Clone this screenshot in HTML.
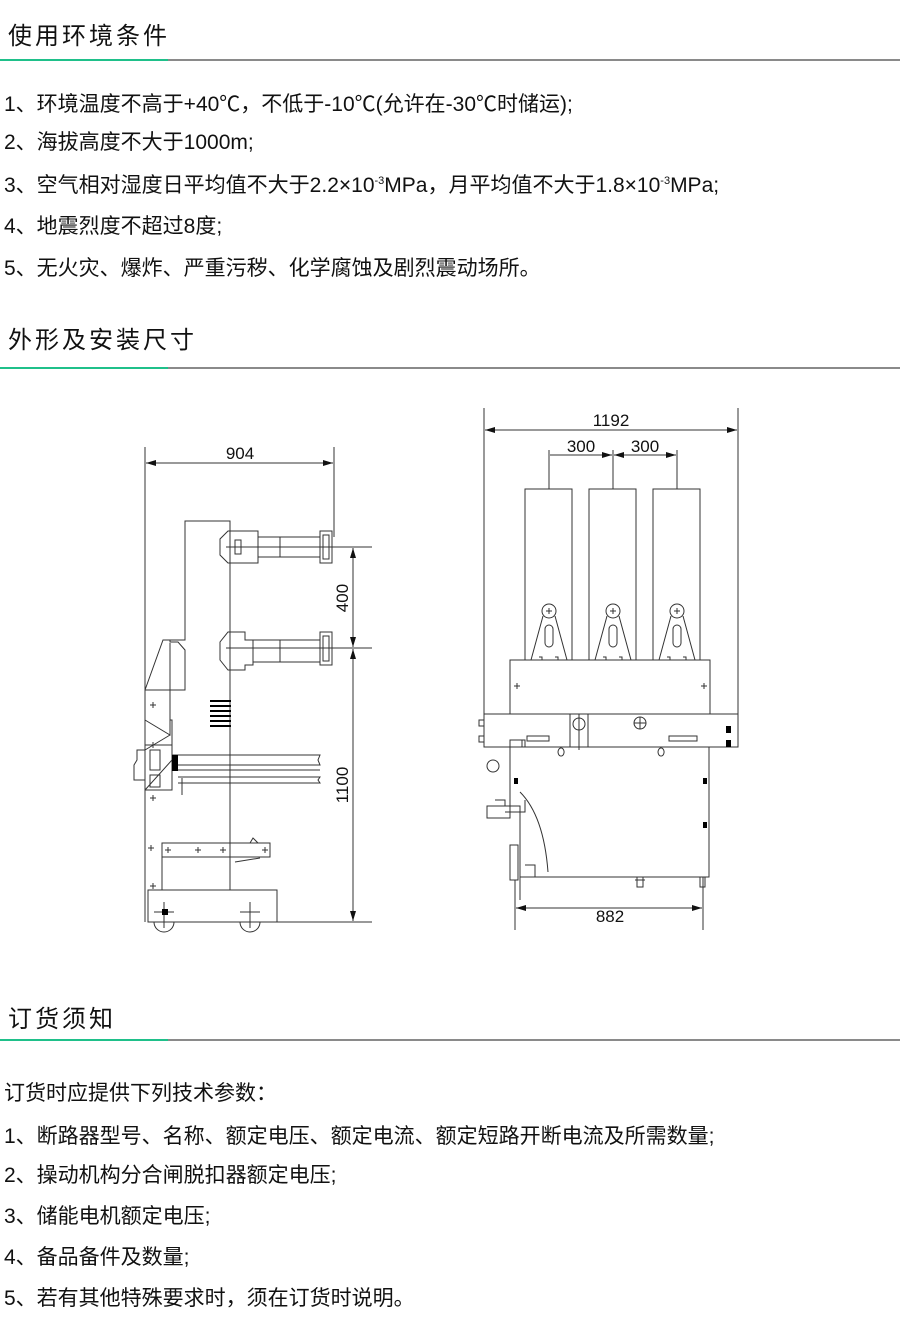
<!DOCTYPE html>
<html><head><meta charset="utf-8">
<style>
body{margin:0;background:#fff;width:900px;height:1320px;position:relative;overflow:hidden;font-family:"Liberation Sans","Noto Sans CJK SC",sans-serif;color:#111}
.h{position:absolute;left:8px;font-size:24px;letter-spacing:3px}
.ln{position:absolute;left:0;width:900px;height:2px;background:#8a8a8a}
.ln i{position:absolute;left:0;top:0;width:168px;height:2px;background:#1fc08a}
.t{position:absolute;left:4px;font-size:21px;white-space:nowrap}
sup{font-size:11px}
svg{position:absolute;left:0;top:0}
</style></head><body>
<div class="h" style="top:16px">使用环境条件</div>
<div class="ln" style="top:59px"><i></i></div>
<div class="t" style="top:88px">1、环境温度不高于+40℃，不低于-10℃(允许在-30℃时储运);</div>
<div class="t" style="top:126px">2、海拔高度不大于1000m;</div>
<div class="t" style="top:169px">3、空气相对湿度日平均值不大于2.2×10<sup>-3</sup>MPa，月平均值不大于1.8×10<sup>-3</sup>MPa;</div>
<div class="t" style="top:210px">4、地震烈度不超过8度;</div>
<div class="t" style="top:252px">5、无火灾、爆炸、严重污秽、化学腐蚀及剧烈震动场所。</div>
<div class="h" style="top:320px">外形及安装尺寸</div>
<div class="ln" style="top:367px"><i></i></div>
<div class="h" style="top:999px">订货须知</div>
<div class="ln" style="top:1039px"><i></i></div>
<div class="t" style="top:1077px">订货时应提供下列技术参数：</div>
<div class="t" style="top:1120px">1、断路器型号、名称、额定电压、额定电流、额定短路开断电流及所需数量;</div>
<div class="t" style="top:1159px">2、操动机构分合闸脱扣器额定电压;</div>
<div class="t" style="top:1200px">3、储能电机额定电压;</div>
<div class="t" style="top:1241px">4、备品备件及数量;</div>
<div class="t" style="top:1282px">5、若有其他特殊要求时，须在订货时说明。</div>

<svg width="900" height="1320" viewBox="0 0 900 1320">
<defs>
<marker id="a" viewBox="0 0 10 6" refX="10" refY="3" markerWidth="10" markerHeight="6" orient="auto-start-reverse" markerUnits="userSpaceOnUse"><path d="M0,0L10,3L0,6z" fill="#111"/></marker>
</defs>
<g fill="none" stroke="#333" stroke-width="1">
<line x1="145" y1="447" x2="145" y2="922"/>
<line x1="334" y1="447" x2="334" y2="537"/>
<line x1="146" y1="463" x2="333" y2="463" marker-start="url(#a)" marker-end="url(#a)"/>
<line x1="323" y1="547" x2="372" y2="547"/>
<line x1="323" y1="648" x2="372" y2="648"/>
<line x1="258" y1="922" x2="372" y2="922"/>
<line x1="353" y1="548" x2="353" y2="647" marker-start="url(#a)" marker-end="url(#a)"/>
<line x1="353" y1="649" x2="353" y2="921" marker-start="url(#a)" marker-end="url(#a)"/>
<path d="M185,521H230V755H172V720H170V690H185V650L178,642H170V640H185z"/>
<path d="M170,640H163L145,690M170,643V690"/>
<path d="M145,690H170V735L145,720"/>
<path d="M170,735L145,750"/>
<path d="M172,760L145,790"/>
<path d="M228,531H258V563H228L220,555V539z"/>
<rect x="258" y="537" width="62" height="20"/>
<line x1="280" y1="537" x2="280" y2="557"/>
<rect x="320" y="531" width="12" height="32"/>
<rect x="323" y="535" width="6" height="24"/>
<line x1="226" y1="547" x2="330" y2="547"/>
<path d="M235,540h6v14h-6z"/>
<path d="M228,632H245V640H253V665H245V670H228L220,660V642z"/>
<rect x="253" y="640" width="67" height="22"/>
<line x1="280" y1="640" x2="280" y2="662"/>
<rect x="320" y="632" width="12" height="33"/>
<rect x="323" y="636" width="6" height="25"/>
<line x1="226" y1="648" x2="330" y2="648"/>
<path d="M178,755H320L318,760L320,765H178"/>
<path d="M178,777H320L318,780L320,783H178"/>
<line x1="178" y1="770" x2="320" y2="770"/>
<rect x="145" y="745" width="27" height="45"/>
<path d="M150,750h10v20h-10zM150,775h10v12h-10z"/>
<path d="M145,750h-8v10l-3,5v15h11"/>
<line x1="182" y1="778" x2="182" y2="795"/>
<line x1="230" y1="755" x2="230" y2="890"/>
<rect x="162" y="843" width="108" height="14"/>
<path d="M250,843l3,-5l5,5"/>
<line x1="162" y1="857" x2="162" y2="890"/>
<path d="M235,862l25,-4"/>
<rect x="148" y="890" width="129" height="32"/>
<path d="M154,922a10,10 0 0 0 20,0M240,922a10,10 0 0 0 20,0"/>
<path d="M164,902v26M154,912h20M250,902v26M240,912h20"/>
<path d="M150,705h6M153,702v6M150,745h6M153,742v6M150,798h6M153,795v6M148,848h6M151,845v6M165,850h6M168,847v6M195,850h6M198,847v6M220,850h6M223,847v6M262,850h6M265,847v6M150,886h6M153,883v6"/>
<line x1="484" y1="408" x2="484" y2="714"/>
<line x1="738" y1="408" x2="738" y2="714"/>
<line x1="485" y1="430" x2="737" y2="430" marker-start="url(#a)" marker-end="url(#a)"/>
<line x1="549" y1="450" x2="549" y2="489"/>
<line x1="613" y1="450" x2="613" y2="489"/>
<line x1="677" y1="450" x2="677" y2="489"/>
<line x1="550" y1="455" x2="612" y2="455" marker-end="url(#a)"/>
<line x1="614" y1="455" x2="676" y2="455" marker-start="url(#a)" marker-end="url(#a)"/>
<rect x="525" y="489" width="47" height="171"/>
<rect x="589" y="489" width="47" height="171"/>
<rect x="653" y="489" width="47" height="171"/>
<g id="br">
<circle cx="549" cy="611" r="7"/>
<path d="M546,611h6M549,608v6"/>
<path d="M543,616L531,660M555,616L567,660"/>
<rect x="545" y="625" width="8" height="22" rx="4"/>
<path d="M539,657h3v3M555,657h3v3"/>
</g>
<use href="#br" x="64"/>
<use href="#br" x="128"/>
<rect x="510" y="660" width="200" height="54"/>
<path d="M514,686h6M517,683v6M701,686h6M704,683v6"/>
<rect x="484" y="714" width="254" height="33"/>
<rect x="570" y="714" width="18" height="33"/>
<line x1="579" y1="714" x2="579" y2="750"/>
<circle cx="579" cy="724" r="6"/>
<circle cx="640" cy="723" r="6"/>
<path d="M634,723h12M640,717v12"/>
<path d="M527,736h22v5h-22zM669,736h28v5h-28z"/>
<path d="M561,748a3,4 0 1 0 .1,0M661,748a3,4 0 1 0 .1,0"/>
<path d="M484,720h-5v6h5M484,736h-5v6h5"/>
<path d="M510,747V806H520V900M510,747v-7h15v7"/>
<rect x="510" y="740" width="12" height="7"/>
<path d="M510,747H709V877H520"/>
<circle cx="493" cy="766" r="6"/>
<path d="M487,806h23v12h-23zM495,800h10v6M505,812h20V800"/>
<path d="M520,792c15,15 25,40 28,80"/>
<path d="M525,865h10v12M510,845h8v35h-8z"/>
<line x1="515" y1="880" x2="515" y2="930"/>
<line x1="703" y1="877" x2="703" y2="930"/>
<rect x="700" y="877" width="5" height="10"/>
<path d="M637,877v10h6v-10M635,880h10"/>
<line x1="516" y1="908" x2="702" y2="908" marker-start="url(#a)" marker-end="url(#a)"/>
</g>
<g fill="#000">
<rect x="172" y="755" width="6" height="16"/>
<rect x="210" y="700" width="21" height="2"/><rect x="210" y="705" width="21" height="2"/><rect x="210" y="710" width="21" height="2"/><rect x="210" y="715" width="21" height="2"/><rect x="210" y="720" width="21" height="2"/><rect x="210" y="725" width="21" height="2"/>
<rect x="162" y="909" width="6" height="6"/>
<rect x="726" y="726" width="5" height="7"/><rect x="726" y="740" width="5" height="7"/>
<rect x="514" y="778" width="4" height="6"/><rect x="703" y="778" width="4" height="6"/><rect x="703" y="822" width="4" height="6"/>
</g>
<g font-family="Liberation Sans,sans-serif" font-size="17" fill="#111" text-anchor="middle">
<text x="240" y="459">904</text>
<text x="611" y="426">1192</text>
<text x="581" y="452">300</text>
<text x="645" y="452">300</text>
<text x="610" y="922">882</text>
<text transform="translate(348,598) rotate(-90)">400</text>
<text transform="translate(348,785) rotate(-90)">1100</text>
</g>
</svg>
</body></html>
